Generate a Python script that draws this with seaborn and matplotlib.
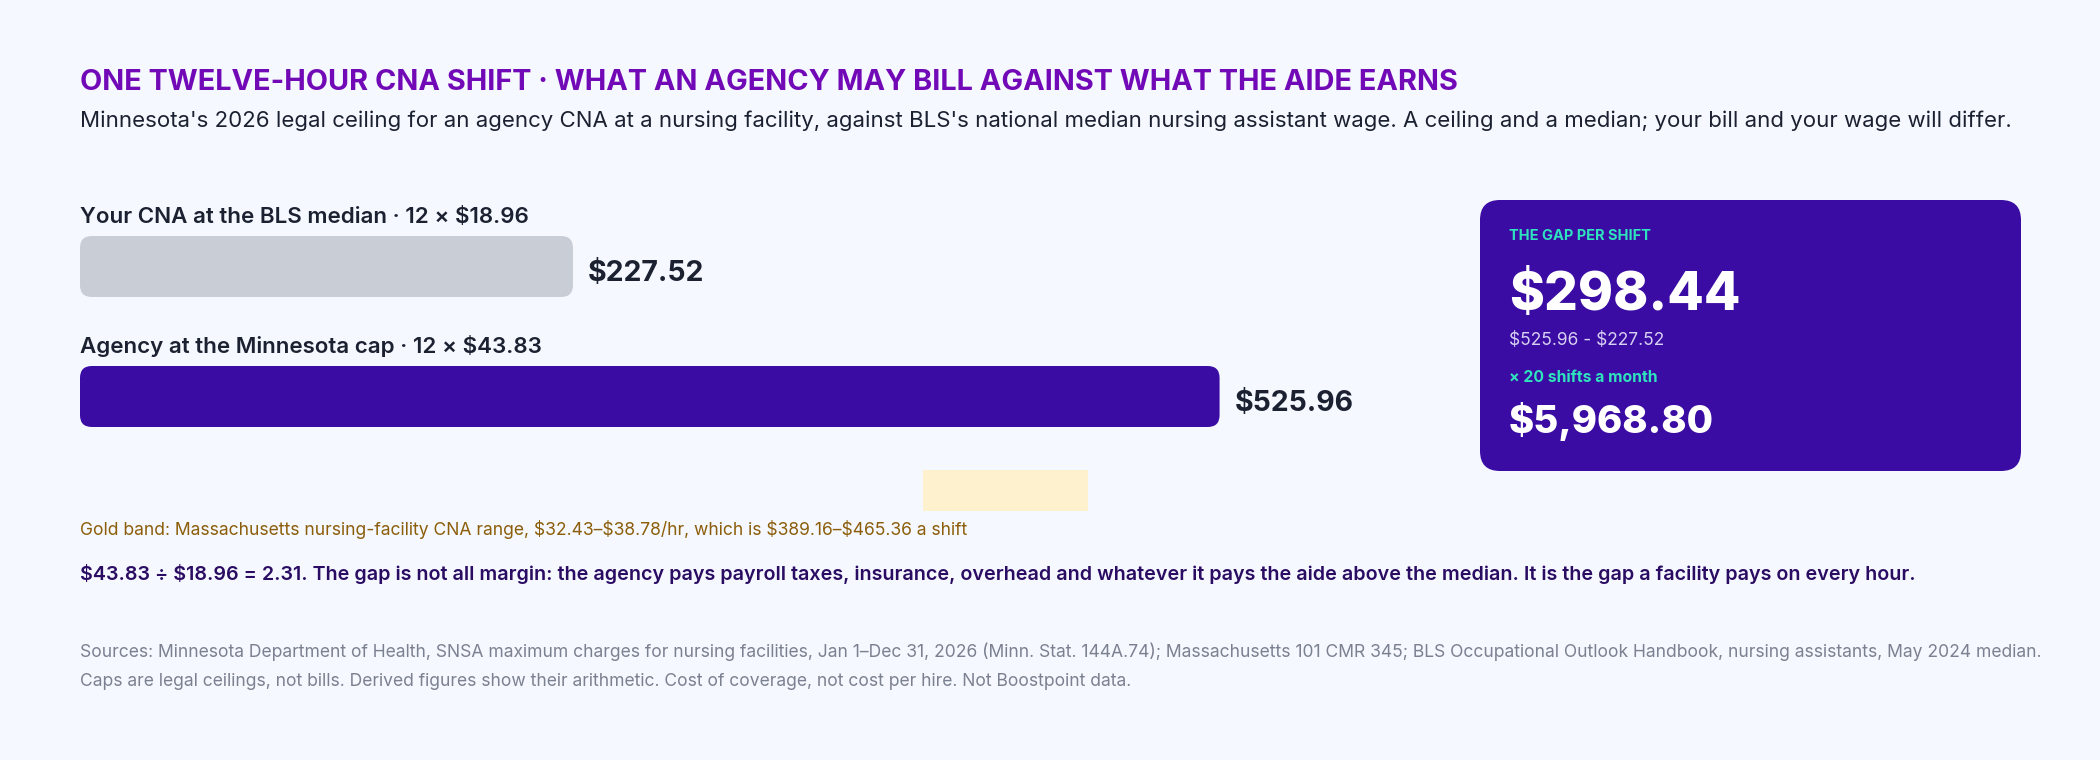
import numpy as np
import pandas as pd
import seaborn as sns
import matplotlib.pyplot as plt
from matplotlib.patches import FancyBboxPatch

# --- data ---
HOURS = 12
ROLES = ["Your CNA at the BLS median", "Agency at the Minnesota cap"]
HOURLY = [18.96, 43.83]
SHIFT_TOTAL = [227.52, 525.96]
MA_HOURLY = [32.43, 38.78]
MA_SHIFT = [389.16, 465.36]
GAP_PER_SHIFT = 298.44
SHIFTS_PER_MONTH = 20
GAP_PER_MONTH = 5968.80
RATIO = 2.31

# --- style ---
BG = "#F5F8FE"
BAR_COLORS = ["#C8CDD6", "#3A0CA3"]
CARD = "#3A0CA3"
GOLD_BAND = "#FEF1CD"
GOLD_TEXT = "#8C5E0B"
TITLE = "#7209B7"
INK = "#1B2131"
MINT = "#2FE3BE"
NOTE = "#2A0C63"
GREY = "#7C8191"

sns.set_theme(style="white")
plt.rcParams["font.family"] = ["Inter", "DejaVu Sans"]
plt.rcParams["text.parse_math"] = False

W, H = 2100, 760
fig = plt.figure(figsize=(21, 7.6), dpi=100)
fig.patch.set_facecolor(BG)


def px_box(x0, y0, x1, y1):
    return [x0 / W, 1 - y1 / H, (x1 - x0) / W, (y1 - y0) / H]


# bar panel: 0 $ at px 80, 600 $ at px 1380; category rows 130 px apart
ROW_PX = 130
ax = fig.add_axes(px_box(80, 200, 1380, 540))
df = pd.DataFrame({"role": ROLES, "total": SHIFT_TOTAL})
sns.barplot(data=df, x="total", y="role", hue="role", palette=BAR_COLORS,
            saturation=1, width=61 / ROW_PX, legend=False, ax=ax)
ax.set_xlim(0, 600)
ax.set_ylim((540 - 266.5) / ROW_PX, (200 - 266.5) / ROW_PX)
ax.set_facecolor("none")
ax.axis("off")

# swap seaborn's rectangles for rounded ones of the same extent
aspect = (600 / 1300) ** -1 / ROW_PX
bars = list(ax.patches)
for p in bars:
    x, y, w, h = p.get_x(), p.get_y(), p.get_width(), p.get_height()
    p.remove()
    ax.add_patch(FancyBboxPatch((x, y), w, h,
                                boxstyle="round,pad=0,rounding_size=5.5",
                                mutation_aspect=aspect, fc=p.get_facecolor(),
                                ec="none"))

for i, (role, rate, total) in enumerate(zip(ROLES, HOURLY, SHIFT_TOTAL)):
    top = i - 61 / ROW_PX / 2
    ax.annotate(f"{role} · {HOURS} × ${rate:.2f}", (0, top),
                xytext=(0, 9.5), textcoords="offset points", va="baseline",
                ha="left", fontsize=16.1, fontweight="semibold", color=INK)
    ax.annotate(f"${total:.2f}", (total, i), xytext=(11, -10.5),
                textcoords="offset points", va="baseline", ha="left",
                fontsize=20.5, fontweight="bold", color=INK)

# Massachusetts band on the same dollar scale
band_y = (490.5 - 266.5) / ROW_PX
ax.barh(band_y, MA_SHIFT[1] - MA_SHIFT[0], left=MA_SHIFT[0],
        height=41 / ROW_PX, color=GOLD_BAND, linewidth=0)

# overlay in pixel coordinates for titles, notes and the card
ov = fig.add_axes([0, 0, 1, 1])
ov.set_xlim(0, W)
ov.set_ylim(H, 0)
ov.axis("off")
ov.set_facecolor("none")

ov.text(80, 90, "ONE TWELVE-HOUR CNA SHIFT · WHAT AN AGENCY MAY BILL AGAINST WHAT THE AIDE EARNS",
        fontsize=20.8, fontweight="bold", color=TITLE, va="baseline")
ov.text(80, 127, "Minnesota's 2026 legal ceiling for an agency CNA at a nursing facility, against BLS's "
        "national median nursing assistant wage. A ceiling and a median; your bill and your wage will differ.",
        fontsize=16, color=INK, va="baseline")

ov.text(80, 535, f"Gold band: Massachusetts nursing-facility CNA range, ${MA_HOURLY[0]:.2f}–${MA_HOURLY[1]:.2f}/hr, "
        f"which is ${MA_SHIFT[0]:.2f}–${MA_SHIFT[1]:.2f} a shift",
        fontsize=12.6, color=GOLD_TEXT, va="baseline")
ov.text(80, 580, f"${HOURLY[1]:.2f} ÷ ${HOURLY[0]:.2f} = {RATIO:.2f}. The gap is not all margin: the agency pays "
        "payroll taxes, insurance, overhead and whatever it pays the aide above the median. "
        "It is the gap a facility pays on every hour.",
        fontsize=14.2, fontweight="semibold", color=NOTE, va="baseline")
ov.text(80, 657, "Sources: Minnesota Department of Health, SNSA maximum charges for nursing facilities, "
        "Jan 1–Dec 31, 2026 (Minn. Stat. 144A.74); Massachusetts 101 CMR 345; BLS Occupational Outlook "
        "Handbook, nursing assistants, May 2024 median.",
        fontsize=12.6, color=GREY, va="baseline")
ov.text(80, 686, "Caps are legal ceilings, not bills. Derived figures show their arithmetic. "
        "Cost of coverage, not cost per hire. Not Boostpoint data.",
        fontsize=12.6, color=GREY, va="baseline")

# gap card
ov.add_patch(FancyBboxPatch((1480, 200), 541, 271,
                            boxstyle="round,pad=0,rounding_size=20",
                            fc=CARD, ec="none"))
ov.text(1509, 240, "THE GAP PER SHIFT", fontsize=10.5, fontweight="bold",
        color=MINT, va="baseline")
ov.text(1509, 310, f"${GAP_PER_SHIFT:,.2f}", fontsize=38.3, fontweight="heavy",
        color="white", va="baseline")
ov.text(1509, 345, f"${SHIFT_TOTAL[1]:.2f} - ${SHIFT_TOTAL[0]:.2f}", fontsize=12.5,
        color="#D8D0F3", va="baseline")
ov.text(1509, 382, f"× {SHIFTS_PER_MONTH} shifts a month", fontsize=11.3,
        fontweight="bold", color=MINT, va="baseline")
ov.text(1509, 433, f"${GAP_PER_MONTH:,.2f}", fontsize=27.6, fontweight="heavy",
        color="white", va="baseline")

fig.savefig("out.png", dpi=100, facecolor=BG)
